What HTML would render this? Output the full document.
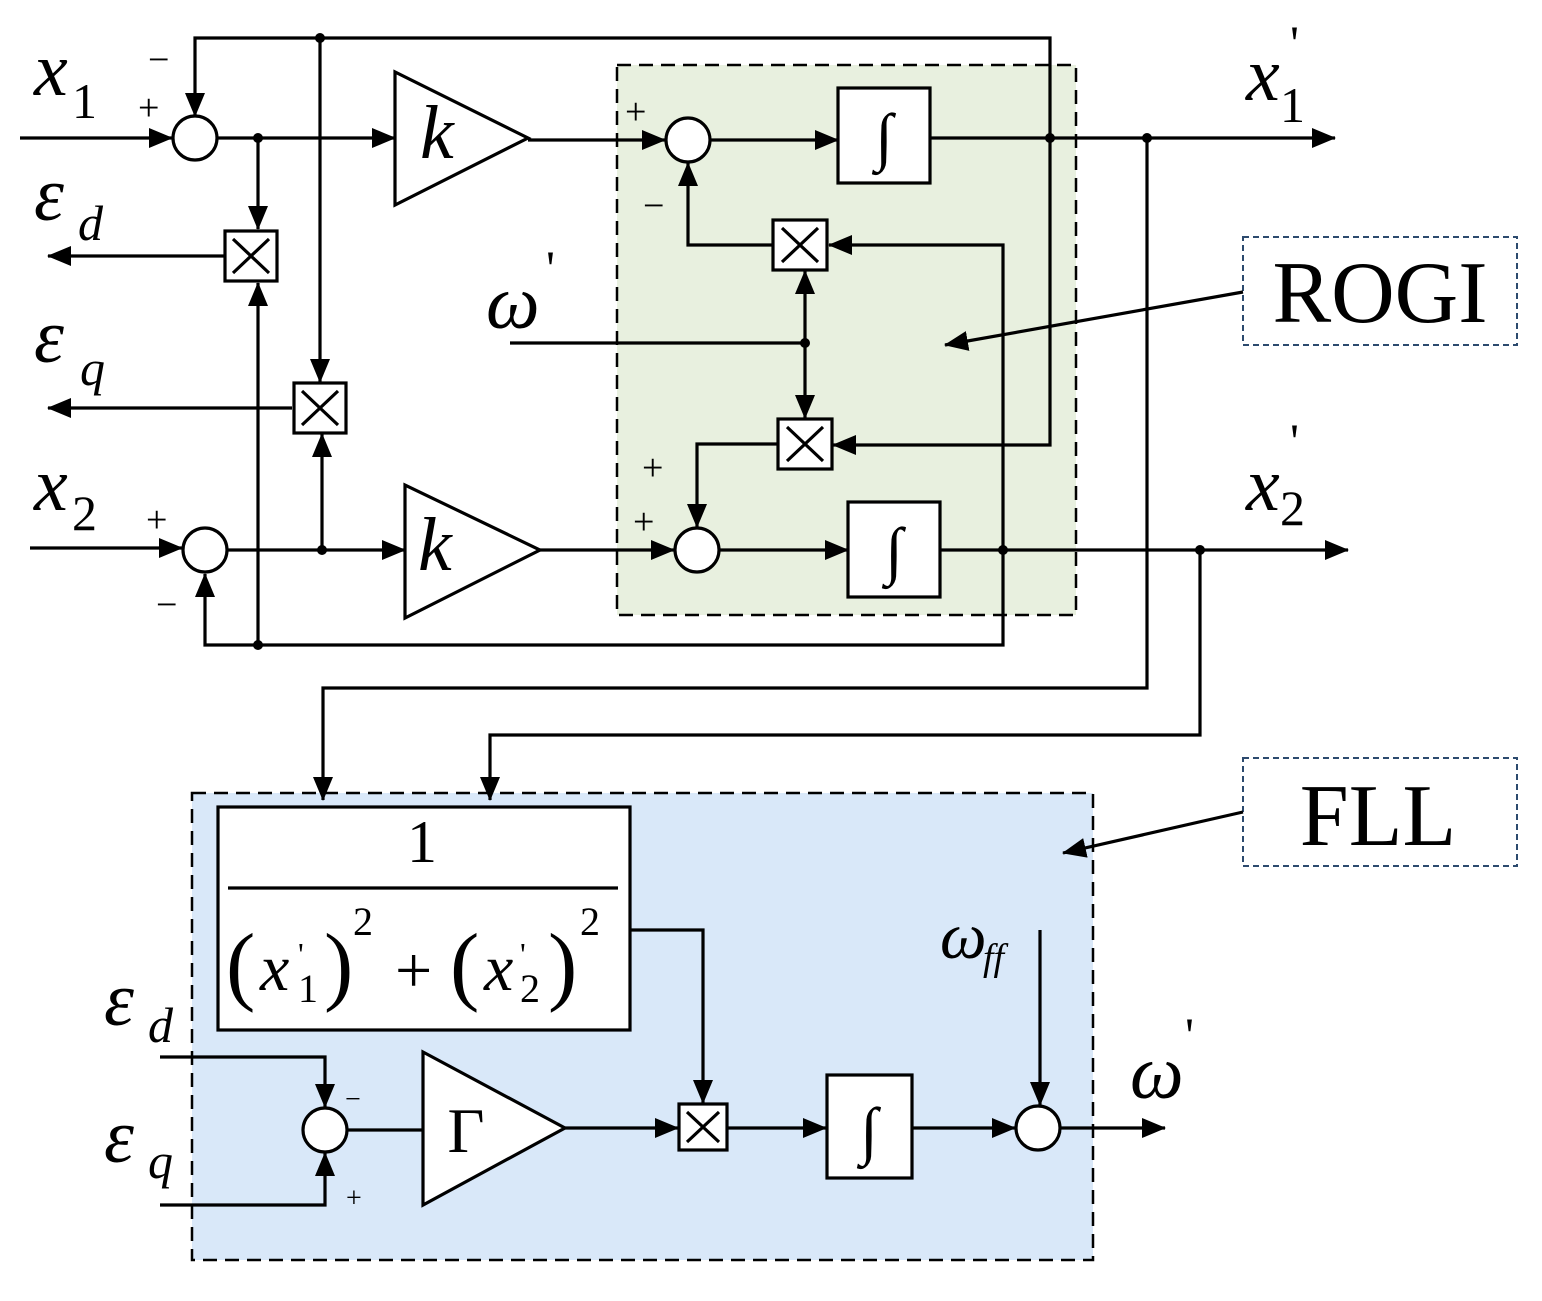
<!DOCTYPE html>
<html><head><meta charset="utf-8"><style>html,body{margin:0;padding:0;background:#fff}svg{display:block}</style></head><body>
<svg width="1542" height="1301" viewBox="0 0 1542 1301" xmlns="http://www.w3.org/2000/svg" font-family="Liberation Serif, serif">
<defs><marker id="b" markerWidth="24" markerHeight="20" refX="23" refY="10" orient="auto" markerUnits="userSpaceOnUse" viewBox="0 0 24 20"><path d="M0,0 L24,10 L0,20z" fill="#000"/></marker></defs>
<rect x="617" y="65" width="459" height="550" fill="#e8f0df" stroke="#000" stroke-width="2.5" stroke-dasharray="14,8"/>
<rect x="192" y="793" width="901" height="467" fill="#d9e8f9" stroke="#000" stroke-width="2.5" stroke-dasharray="14,8"/>
<rect x="1243" y="237" width="274" height="108" fill="#fff" stroke="#2c4a6e" stroke-width="2" stroke-dasharray="6,4"/>
<rect x="1243" y="758" width="274" height="108" fill="#fff" stroke="#2c4a6e" stroke-width="2" stroke-dasharray="6,4"/>
<text x="1380" y="322" font-size="88" text-anchor="middle">ROGI</text>
<text x="1378" y="845" font-size="88" text-anchor="middle">FLL</text>
<g stroke="#000" stroke-width="3.2" fill="none">
<line x1="1243" y1="292" x2="945" y2="345" marker-end="url(#b)"/>
<line x1="1243" y1="812" x2="1063" y2="853" marker-end="url(#b)"/>
<polyline points="1050,138 1050,38 195,38 195,116" marker-end="url(#b)"/>
<line x1="20" y1="138" x2="172" y2="138" marker-end="url(#b)"/>
<line x1="217" y1="138" x2="395" y2="138" marker-end="url(#b)"/>
<line x1="258" y1="138" x2="258" y2="229" marker-end="url(#b)"/>
<line x1="320" y1="38" x2="320" y2="382" marker-end="url(#b)"/>
<line x1="224" y1="256" x2="48" y2="256" marker-end="url(#b)"/>
<line x1="292" y1="408" x2="48" y2="408" marker-end="url(#b)"/>
<line x1="258" y1="645" x2="258" y2="283" marker-end="url(#b)"/>
<line x1="322" y1="550" x2="322" y2="434" marker-end="url(#b)"/>
<polyline points="1003,550 1003,645 205,645 205,574" marker-end="url(#b)"/>
<line x1="30" y1="548" x2="182" y2="548" marker-end="url(#b)"/>
<line x1="228" y1="550" x2="405" y2="550" marker-end="url(#b)"/>
<line x1="528" y1="140" x2="665" y2="140" marker-end="url(#b)"/>
<line x1="710" y1="140" x2="838" y2="140" marker-end="url(#b)"/>
<line x1="930" y1="138" x2="1335" y2="138" marker-end="url(#b)"/>
<polyline points="773,245 688,245 688,163" marker-end="url(#b)"/>
<polyline points="1003,550 1003,245 829,245" marker-end="url(#b)"/>
<polyline points="1050,138 1050,445 833,445" marker-end="url(#b)"/>
<line x1="510" y1="343" x2="805" y2="343"/>
<line x1="805" y1="343" x2="805" y2="271" marker-end="url(#b)"/>
<line x1="805" y1="343" x2="805" y2="418" marker-end="url(#b)"/>
<polyline points="778,444 697,444 697,527" marker-end="url(#b)"/>
<line x1="540" y1="550" x2="674" y2="550" marker-end="url(#b)"/>
<line x1="720" y1="550" x2="848" y2="550" marker-end="url(#b)"/>
<line x1="940" y1="550" x2="1348" y2="550" marker-end="url(#b)"/>
<polyline points="1147,138 1147,688 323,688 323,800" marker-end="url(#b)"/>
<polyline points="1200,550 1200,735 490,735 490,800" marker-end="url(#b)"/>
<polyline points="630,930 703,930 703,1103" marker-end="url(#b)"/>
<polyline points="160,1057 325,1057 325,1107" marker-end="url(#b)"/>
<polyline points="160,1205 325,1205 325,1153" marker-end="url(#b)"/>
<line x1="347" y1="1130" x2="423" y2="1130"/>
<line x1="565" y1="1128" x2="678" y2="1128" marker-end="url(#b)"/>
<line x1="727" y1="1128" x2="826" y2="1128" marker-end="url(#b)"/>
<line x1="912" y1="1128" x2="1015" y2="1128" marker-end="url(#b)"/>
<line x1="1040" y1="930" x2="1040" y2="1105" marker-end="url(#b)"/>
<line x1="1060" y1="1128" x2="1165" y2="1128" marker-end="url(#b)"/>
</g>
<g stroke="#000" stroke-width="3.2" fill="#fff">
<circle cx="195" cy="138" r="22"/><circle cx="688" cy="140" r="22"/>
<circle cx="205" cy="550" r="22"/><circle cx="697" cy="550" r="22"/>
<circle cx="325" cy="1130" r="22"/><circle cx="1038" cy="1128" r="22"/>
<polygon points="395,72 395,205 528,138"/><polygon points="405,485 405,618 540,550"/>
<polygon points="423,1052 423,1205 565,1128"/>
<rect x="838" y="88" width="92" height="95"/><rect x="848" y="502" width="92" height="95"/>
<rect x="827" y="1075" width="85" height="103"/>
<rect x="218" y="807" width="412" height="223"/>
<g transform="translate(251,256)"><rect x="-26" y="-25" width="52" height="50"/><path d="M-18,-17L18,17M18,-17L-18,17"/></g>
<g transform="translate(320,408)"><rect x="-26" y="-25" width="52" height="50"/><path d="M-18,-17L18,17M18,-17L-18,17"/></g>
<g transform="translate(800,245)"><rect x="-27" y="-25" width="54" height="50"/><path d="M-18,-17L18,17M18,-17L-18,17"/></g>
<g transform="translate(805,444)"><rect x="-27" y="-25" width="54" height="50"/><path d="M-18,-17L18,17M18,-17L-18,17"/></g>
<g transform="translate(703,1127)"><rect x="-24" y="-23" width="48" height="46"/><path d="M-16,-15L16,15M16,-15L-16,15"/></g>
</g>
<g fill="#000">
<circle cx="320" cy="38" r="5"/><circle cx="258" cy="138" r="5"/><circle cx="1050" cy="138" r="5"/><circle cx="1147" cy="138" r="5"/>
<circle cx="805" cy="343" r="5"/><circle cx="322" cy="550" r="5"/><circle cx="1003" cy="550" r="5"/><circle cx="1200" cy="550" r="5"/><circle cx="258" cy="645" r="5"/>
</g>
<g font-size="76" font-style="italic">
<text x="420" y="158">k</text><text x="418" y="570">k</text>
<text x="34" y="95">x</text><text x="34" y="510">x</text>
<text x="1246" y="100">x</text><text x="1246" y="510">x</text>
<text x="34" y="220">ε</text><text x="34" y="362">ε</text>
<text x="486" y="328">ω</text><text x="940" y="958" font-size="66">ω</text><text x="1130" y="1098">ω</text>
<text x="104" y="1025">ε</text><text x="104" y="1162">ε</text>
</g>
<g font-size="50">
<text x="72" y="118">1</text><text x="72" y="530">2</text>
<text x="1280" y="122">1</text><text x="1280" y="525">2</text>
<text x="1290" y="60">'</text><text x="1290" y="458">'</text>
<text x="546" y="285">'</text><text x="1185" y="1052">'</text>
</g>
<g font-size="50" font-style="italic"><text x="78" y="240">d</text><text x="80" y="385">q</text><text x="148" y="1042">d</text><text x="148" y="1178">q</text><text x="983" y="970" font-size="38">ff</text></g>
<g font-size="64" text-anchor="middle"><text x="884" y="158">∫</text><text x="894" y="572">∫</text><text x="869" y="1152">∫</text><text x="466" y="1152">Γ</text></g>
<g font-size="38">
<text x="148" y="72">−</text><text x="138" y="120">+</text><text x="625" y="124">+</text><text x="643" y="218">−</text>
<text x="642" y="480">+</text><text x="633" y="534">+</text><text x="146" y="532">+</text><text x="156" y="617">−</text>
<text x="345" y="1108" font-size="28">−</text><text x="346" y="1207" font-size="28">+</text>
</g>
<text x="422" y="862" font-size="60" text-anchor="middle">1</text>
<line x1="228" y1="888" x2="618" y2="888" stroke="#000" stroke-width="3.2"/>
<g font-size="66"><text x="226" y="994" font-size="88">(</text><text x="260" y="990" font-style="italic">x</text><text x="298" y="1002" font-size="40">1</text><text x="298" y="965" font-size="32">'</text><text x="324" y="994" font-size="88">)</text><text x="353" y="935" font-size="40">2</text>
<text x="395" y="992">+</text><text x="450" y="994" font-size="88">(</text><text x="484" y="990" font-style="italic">x</text><text x="520" y="1002" font-size="40">2</text><text x="520" y="965" font-size="32">'</text><text x="548" y="994" font-size="88">)</text><text x="580" y="935" font-size="40">2</text></g>
</svg>
</body></html>
